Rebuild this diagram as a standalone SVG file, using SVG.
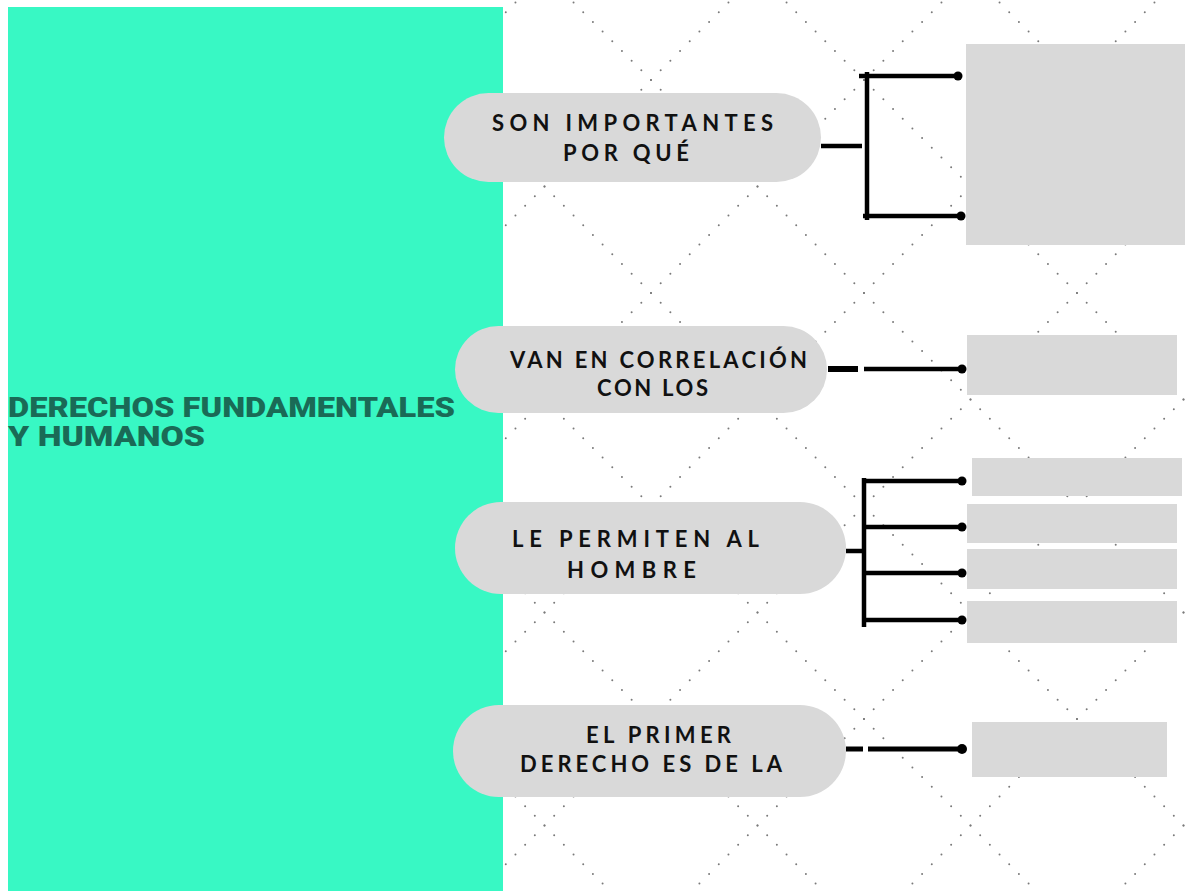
<svg xmlns="http://www.w3.org/2000/svg" width="1185" height="891" viewBox="0 0 1185 891">
  <defs>
    <style>
      .dots { stroke: #7a7a7a; stroke-width: 2; stroke-linecap: round; stroke-dasharray: 0 13.6921; fill: none; }
      .pill { fill: #d9d9d9; }
      .box { fill: #d9d9d9; }
      .lbl { font-family: Lato, "Open Sans", sans-serif; font-weight: 700; font-size: 22px; fill: #111111; }
      .title { font-family: Roboto, "Liberation Sans", sans-serif; font-weight: 900; font-size: 27px; fill: #1a6a56; }
      .conn { stroke: #000000; stroke-width: 4.5; fill: none; }
      .thick { stroke: #000000; stroke-width: 6; fill: none; }
      .end { fill: #000000; }
    </style>
    <clipPath id="patClip">
      <rect x="503" y="0" width="682" height="891"/>
    </clipPath>
  </defs>

  <rect x="0" y="0" width="1185" height="891" fill="#ffffff"/>

  <g id="pattern" clip-path="url(#patClip)">
    <line class="dots" x1="-414" y1="-133" x2="864" y2="1145"/>
    <line class="dots" x1="-201" y1="-133" x2="1077" y2="1145"/>
    <line class="dots" x1="12" y1="-133" x2="1290" y2="1145"/>
    <line class="dots" x1="225" y1="-133" x2="1503" y2="1145"/>
    <line class="dots" x1="438" y1="-133" x2="1716" y2="1145"/>
    <line class="dots" x1="651" y1="-133" x2="1929" y2="1145"/>
    <line class="dots" x1="864" y1="-133" x2="2142" y2="1145"/>
    <line class="dots" x1="651" y1="-133" x2="-627" y2="1145"/>
    <line class="dots" x1="864" y1="-133" x2="-414" y2="1145"/>
    <line class="dots" x1="1077" y1="-133" x2="-201" y2="1145"/>
    <line class="dots" x1="1290" y1="-133" x2="12" y2="1145"/>
    <line class="dots" x1="1503" y1="-133" x2="225" y2="1145"/>
    <line class="dots" x1="1716" y1="-133" x2="438" y2="1145"/>
    <line class="dots" x1="1929" y1="-133" x2="651" y2="1145"/>
    <line class="dots" x1="2142" y1="-133" x2="864" y2="1145"/>
  </g>

  <g id="panel">
    <rect x="8" y="7" width="495" height="884" fill="#38f8c4"/>
    <text class="title" x="8" y="417" textLength="447" lengthAdjust="spacingAndGlyphs">DERECHOS FUNDAMENTALES</text>
    <text class="title" x="8" y="446" textLength="197" lengthAdjust="spacingAndGlyphs">Y HUMANOS</text>
  </g>

  <g id="connectors">
    <line class="conn" x1="821" y1="146" x2="862" y2="146"/>
    <line class="conn" x1="867" y1="72" x2="867" y2="220"/>
    <line class="conn" x1="859" y1="76" x2="958" y2="76"/>
    <line class="conn" x1="863" y1="216" x2="961" y2="216"/>
    <circle class="end" cx="958" cy="76" r="4.5"/>
    <circle class="end" cx="961" cy="216" r="4.5"/>

    <line class="thick" x1="828" y1="369" x2="858" y2="369"/>
    <line class="conn" x1="864" y1="369" x2="962" y2="369"/>
    <circle class="end" cx="962" cy="369" r="4.5"/>

    <line class="conn" x1="846" y1="551" x2="862" y2="551"/>
    <line class="conn" x1="864" y1="478" x2="864" y2="627"/>
    <line class="conn" x1="862" y1="481" x2="962" y2="481"/>
    <line class="conn" x1="864" y1="527" x2="962" y2="527"/>
    <line class="conn" x1="864" y1="573" x2="962" y2="573"/>
    <line class="conn" x1="864" y1="620" x2="962" y2="620"/>
    <circle class="end" cx="962" cy="481" r="4.5"/>
    <circle class="end" cx="962" cy="527" r="4.5"/>
    <circle class="end" cx="962" cy="573" r="4.5"/>
    <circle class="end" cx="962" cy="620" r="4.5"/>

    <line class="conn" x1="846" y1="749" x2="863" y2="749" style="stroke-width:5"/>
    <line class="conn" x1="868" y1="749" x2="962" y2="749" style="stroke-width:5"/>
    <circle class="end" cx="962" cy="749" r="5"/>
  </g>

  <g id="node-importantes">
    <rect class="pill" x="444" y="93" width="377" height="89" rx="44.5"/>
    <text class="lbl" x="492" y="131" textLength="281" lengthAdjust="spacing">SON IMPORTANTES</text>
    <text class="lbl" x="563" y="161" textLength="126" lengthAdjust="spacing">POR QUÉ</text>
  </g>
  <g id="node-correlacion">
    <rect class="pill" x="455" y="326" width="372" height="87" rx="43.5"/>
    <text class="lbl" x="510" y="368" textLength="297" lengthAdjust="spacing">VAN EN CORRELACIÓN</text>
    <text class="lbl" x="597" y="396" textLength="111" lengthAdjust="spacing">CON LOS</text>
  </g>
  <g id="node-permiten">
    <rect class="pill" x="455" y="502" width="391" height="92" rx="46"/>
    <text class="lbl" x="512" y="547" textLength="247" lengthAdjust="spacing">LE PERMITEN AL</text>
    <text class="lbl" x="567" y="578" textLength="129" lengthAdjust="spacing">HOMBRE</text>
  </g>
  <g id="node-primer">
    <rect class="pill" x="453" y="705" width="393" height="92" rx="46"/>
    <text class="lbl" x="586" y="743" textLength="145" lengthAdjust="spacing">EL PRIMER</text>
    <text class="lbl" x="520" y="772" textLength="262" lengthAdjust="spacing">DERECHO ES DE LA</text>
  </g>

  <g id="box-1"><rect class="box" x="966" y="44" width="219" height="201"/></g>
  <g id="box-2"><rect class="box" x="967" y="335" width="210" height="60"/></g>
  <g id="box-3a"><rect class="box" x="972" y="458" width="210" height="38"/></g>
  <g id="box-3b"><rect class="box" x="967" y="504" width="210" height="39"/></g>
  <g id="box-3c"><rect class="box" x="967" y="549" width="210" height="40"/></g>
  <g id="box-3d"><rect class="box" x="967" y="601" width="210" height="42"/></g>
  <g id="box-4"><rect class="box" x="972" y="722" width="195" height="55"/></g>
</svg>
